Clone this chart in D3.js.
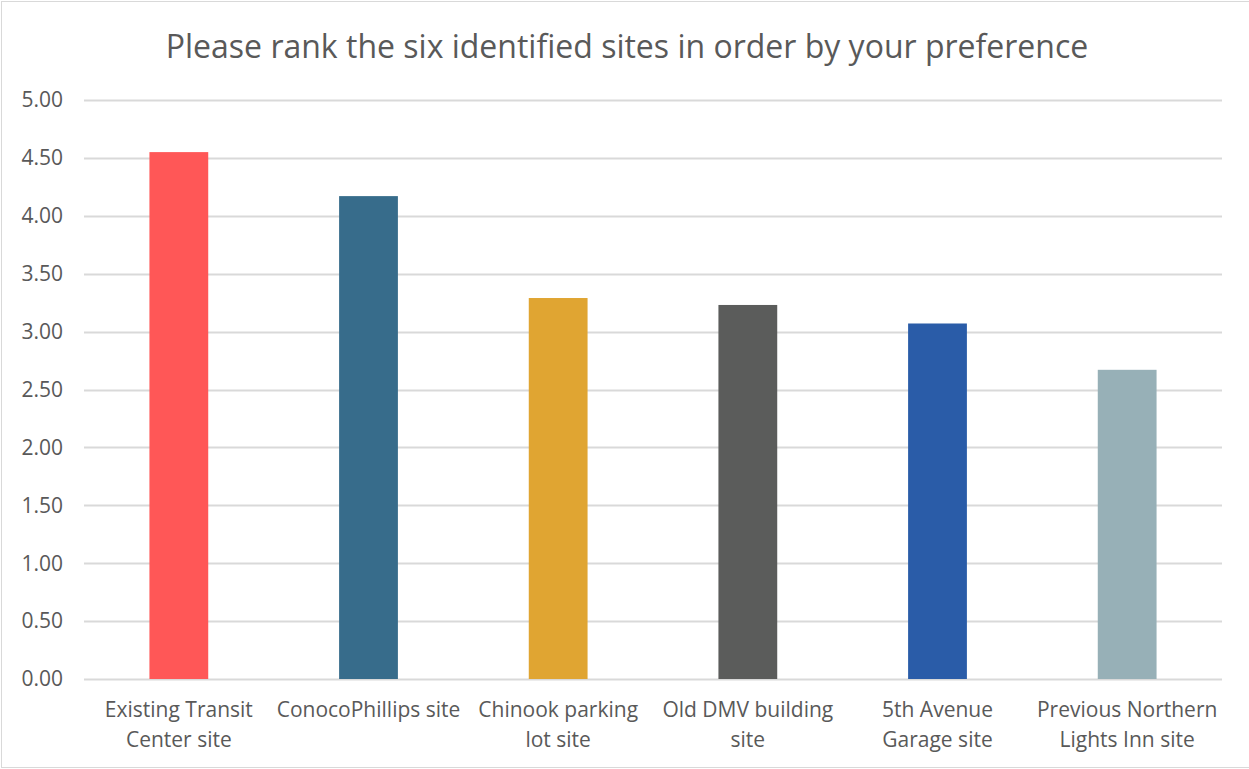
<!DOCTYPE html>
<html>
<head>
<meta charset="utf-8">
<script src="https://cdn.jsdelivr.net/npm/d3@7"></script>
<style>
  body { margin: 0; background: #fff; }
  svg { display: block; }
</style>
</head>
<body>
<svg id="chart"></svg>
<script>
// data
const sites = [
  ["Existing Transit", "Center site"],
  ["ConocoPhillips site"],
  ["Chinook parking", "lot site"],
  ["Old DMV building", "site"],
  ["5th Avenue", "Garage site"],
  ["Previous Northern", "Lights Inn site"]
];
const scores = [4.55, 4.17, 3.29, 3.23, 3.07, 2.67];
const barColors = ["#FF5757", "#376C8B", "#E0A532", "#5B5C5B", "#2A5CA8", "#97B0B7"];
const yTicks = [0, 0.5, 1, 1.5, 2, 2.5, 3, 3.5, 4, 4.5, 5];

const width = 1249, height = 769;
const margin = { top: 100, right: 27, bottom: 90, left: 84 };

const svg = d3.select("#chart")
    .attr("width", width)
    .attr("height", height);

// chart border
svg.append("rect")
    .attr("x", 1.5).attr("y", 1.5)
    .attr("width", width + 10).attr("height", height - 3)
    .attr("fill", "none")
    .attr("stroke", "#d9d9d9")
    .attr("stroke-width", 1);

const x = d3.scaleBand()
    .domain(d3.range(sites.length))
    .range([margin.left, width - margin.right])
    .paddingInner(0.69)
    .paddingOuter(0.345);

const y = d3.scaleLinear()
    .domain([0, 5])
    .range([height - margin.bottom, margin.top]);

// title
svg.append("text")
    .attr("x", 627)
    .attr("y", 58)
    .attr("text-anchor", "middle")
    .attr("font-family", "Open Sans, sans-serif")
    .attr("font-size", 32)
    .attr("fill", "#595959")
    .text("Please rank the six identified sites in order by your preference");

// gridlines
svg.append("g")
  .selectAll("line")
  .data(yTicks)
  .enter().append("line")
    .attr("x1", margin.left)
    .attr("x2", width - margin.right)
    .attr("y1", d => Math.round(y(d)) + 0.5)
    .attr("y2", d => Math.round(y(d)) + 0.5)
    .attr("stroke", "#d9d9d9")
    .attr("stroke-width", 2);

// y labels
svg.append("g")
    .attr("font-family", "Open Sans, sans-serif")
    .attr("font-size", 21)
    .attr("fill", "#595959")
    .attr("text-anchor", "end")
  .selectAll("text")
  .data(yTicks)
  .enter().append("text")
    .attr("x", 63)
    .attr("y", d => y(d))
    .attr("dy", "0.35em")
    .text(d => d3.format(".2f")(d));

// bars
svg.append("g")
  .selectAll("rect")
  .data(scores)
  .enter().append("rect")
    .attr("x", (d, i) => x(i))
    .attr("y", d => y(d))
    .attr("width", x.bandwidth())
    .attr("height", d => y(0) - y(d))
    .attr("fill", (d, i) => barColors[i]);

// x labels
const xl = svg.append("g")
    .attr("font-family", "Open Sans, sans-serif")
    .attr("font-size", 21)
    .attr("fill", "#595959")
    .attr("text-anchor", "middle")
  .selectAll("text")
  .data(sites)
  .enter().append("text")
    .attr("x", (d, i) => x(i) + x.bandwidth() / 2)
    .attr("y", 717);

xl.selectAll("tspan")
  .data(d => d)
  .enter().append("tspan")
    .attr("x", function() { return d3.select(this.parentNode).attr("x"); })
    .attr("dy", (d, i) => i ? 29.5 : 0)
    .text(d => d);
</script>
</body>
</html>
